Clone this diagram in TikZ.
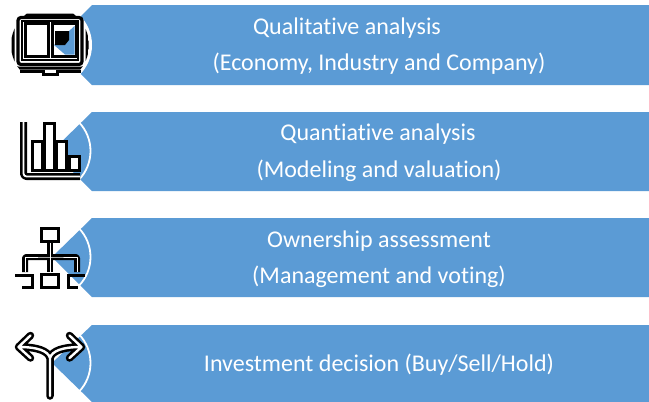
\documentclass[tikz,border=0pt]{standalone}
\usepackage{fontspec}
\setmainfont{Carlito}[Ligatures=NoCommon]
\definecolor{barblue}{HTML}{5B9BD5}
\tikzset{
  x=1pt,y=-1pt,
  barshape/.style={fill=barblue,draw=none},
  ring/.style={draw=white,line width=1.8pt},
  label/.style={text=white,font=\fontsize{24pt}{28pt}\selectfont,anchor=center,inner sep=0pt},
  ink/.style={draw=black,fill=white,line width=3pt},
  outline/.style={draw=black,line width=6pt,line cap=round,line join=round},
  core/.style={draw=white,line width=1.6pt,line cap=round,line join=round},
}
\newcommand{\bararrow}[3]{% top, bottom, apex y
  \fill[barshape] (92,#1) -- (649,#1) -- (649,#2) -- (92,#2) -- (52,#3) -- cycle;
  \begin{scope}
    \clip (40,#1) rectangle (120,#2);
    \draw[ring] (49,#3) ++(-44:41.5) arc[start angle=-44,end angle=44,radius=41.5];
  \end{scope}
}
\begin{document}
\begin{tikzpicture}
\useasboundingbox (0,0) rectangle (649,402);
\fill[white] (0,0) rectangle (649,402);
\bararrow{5}{85}{45}
\bararrow{112}{191}{151}
\bararrow{218}{297}{257}
\bararrow{325}{402}{363}

% book icon
\fill[white] (50,45) circle[radius=42];
\begin{scope}
  \clip (50,45) circle[radius=39];
  \draw[black,line width=3pt,rounded corners=5pt] (13,15) rectangle (87,68);
\end{scope}
\draw[black,line width=3.2pt,rounded corners=3pt] (18,17.5) rectangle (82,64.5);
\draw[black,line width=2pt] (22,21) rectangle (78,60);
\fill[white] (26,24) rectangle (48,55);
\draw[black,line width=3pt] (25,23.5) rectangle (48.5,56);
\draw[black,line width=3pt] (52.5,23.5) rectangle (76,56);
\fill[white] (54,25) rectangle (74.5,54.5);
\fill[barblue] (74.5,26) -- (74.5,54.5) -- (65,54.5) -- (54,45) -- cycle;
\fill[black] (55,31) -- (69,31) -- (69,40) -- (65,45) -- (55,45) -- cycle;
\draw[black,line width=3pt] (20,71) -- (43,71) -- (43,74.5) -- (57,74.5) -- (57,71) -- (81,71);

% bar chart icon
\draw[outline,line width=7pt,line cap=butt,rounded corners=3pt] (23.5,122) -- (23.5,176.5) -- (80,176.5);
\draw[core,line width=1.8pt,line cap=butt,rounded corners=3pt] (23.5,122) -- (23.5,176.5) -- (80,176.5);
\draw[ink] (32,141) rectangle (42,170);
\draw[ink] (44,123) rectangle (54,170);
\draw[ink] (56,141) rectangle (66,170);
\draw[ink] (69,156) rectangle (79,170);

% organisation icon
\node[ink,minimum width=17pt,minimum height=13pt,inner sep=0pt] (orgtop) at (50,235) {};
\coordinate (orghub) at (50,257);
\coordinate (orgl) at (25,272);
\coordinate (orgr) at (77,272);
\coordinate (orgm) at (50,272);
\draw[outline,line cap=butt] (orgtop.south) -- (orgm);
\draw[outline,line cap=butt,rounded corners=1pt] (orgl) |- (orghub) -| (orgr);
\draw[core,line width=.8pt,line cap=butt] (orgtop.south) -- (orgm);
\draw[core,line width=.8pt,line cap=butt] (orgl) |- (orghub) -| (orgr);
\node[ink,minimum width=17pt,minimum height=13pt,inner sep=0pt] (orgmid) at (50,281) {};
\draw[black,line width=3pt] (15,275) -- (32,275) -- (32,287.5) -- (22,287.5);
\draw[black,line width=3pt] (85,275) -- (68,275) -- (68,287.5) -- (78,287.5);

% fork arrow icon
\coordinate (stemb) at (50,396);
\coordinate (stemt) at (50,358);
\coordinate (tipl) at (18.5,347);
\coordinate (tipr) at (81.5,347);
\newcommand{\forkpath}{
  (stemb) -- (stemt) .. controls (48,351) and (38,347) .. (tipl)
  (stemt) .. controls (52,351) and (62,347) .. (tipr)
  (30.5,335.5) -- (tipl) -- (30.5,358)
  (69.5,335.5) -- (tipr) -- (69.5,358)}
\draw[outline,line width=7.5pt] \forkpath;
\draw[core,line width=2.4pt] \forkpath;

% labels
\node[label] (q1a) at (347,28.5) {Qualitative analysis};
\node[label] (q1b) at (379,63.5) {(Economy, Industry and Company)};
\node[label] (q2a) at (378,134.5) {Quantiative analysis};
\node[label] (q2b) at (379,170.5) {(Modeling and valuation)};
\node[label] (q3a) at (379,241.5) {Ownership assessment};
\node[label] (q3b) at (379,276.5) {(Management and voting)};
\node[label] (q4) at (379,365) {Investment decision (Buy/Sell/Hold)};
\end{tikzpicture}
\end{document}
